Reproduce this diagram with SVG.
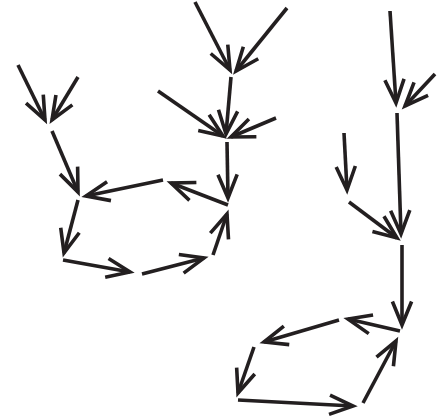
<svg xmlns="http://www.w3.org/2000/svg" width="446" height="419" viewBox="0 0 446 419">
<defs>
<style>
.c line{stroke:#231f20;stroke-width:3.6;fill:none;stroke-linecap:butt;marker-end:url(#ah)}
</style>
<marker id="ah" markerUnits="userSpaceOnUse" orient="auto" markerWidth="60" markerHeight="60" refX="0" refY="0" viewBox="-40 -30 60 60" overflow="visible">
<path d="M-23.5,-9.6 L0,0 L-23.5,9.6" fill="none" stroke="#231f20" stroke-width="3.6" stroke-linejoin="miter"/>
</marker>
</defs>
<rect width="446" height="419" fill="#ffffff"/>
<g id="connectors" class="c">
<line id="e1" x1="18" y1="65" x2="45" y2="120"/>
<line id="e2" x1="78" y1="77" x2="52" y2="120"/>
<line id="e3" x1="52" y1="131" x2="78" y2="192"/>
<line id="e4" x1="163" y1="180" x2="86" y2="196"/>
<line id="e5" x1="78" y1="200" x2="64" y2="253"/>
<line id="e6" x1="63" y1="260" x2="130" y2="272"/>
<line id="e7" x1="142" y1="274" x2="204" y2="258"/>
<line id="e8" x1="213" y1="255" x2="227" y2="214"/>
<line id="e9" x1="228" y1="205" x2="171" y2="183"/>
<line id="e10" x1="227" y1="142" x2="228" y2="198"/>
<line id="e11" x1="195" y1="2" x2="230" y2="70"/>
<line id="e12" x1="287" y1="8" x2="236" y2="71"/>
<line id="e13" x1="231" y1="77" x2="226" y2="134"/>
<line id="e14" x1="158" y1="91" x2="223" y2="136"/>
<line id="e15" x1="276" y1="118" x2="231" y2="137"/>
<line id="e16" x1="390" y1="11" x2="396" y2="103"/>
<line id="e17" x1="435" y1="74" x2="405" y2="106"/>
<line id="e18" x1="397" y1="113" x2="401" y2="234"/>
<line id="e19" x1="344" y1="133" x2="347" y2="190"/>
<line id="e20" x1="349" y1="202" x2="397" y2="238"/>
<line id="e21" x1="402" y1="245" x2="402" y2="325"/>
<line id="e22" x1="400" y1="331" x2="348" y2="319"/>
<line id="e23" x1="339" y1="320" x2="264" y2="342"/>
<line id="e24" x1="254" y1="347" x2="238" y2="393"/>
<line id="e25" x1="238" y1="400" x2="353" y2="406"/>
<line id="e26" x1="363" y1="403" x2="396" y2="341"/>
</g>
</svg>
